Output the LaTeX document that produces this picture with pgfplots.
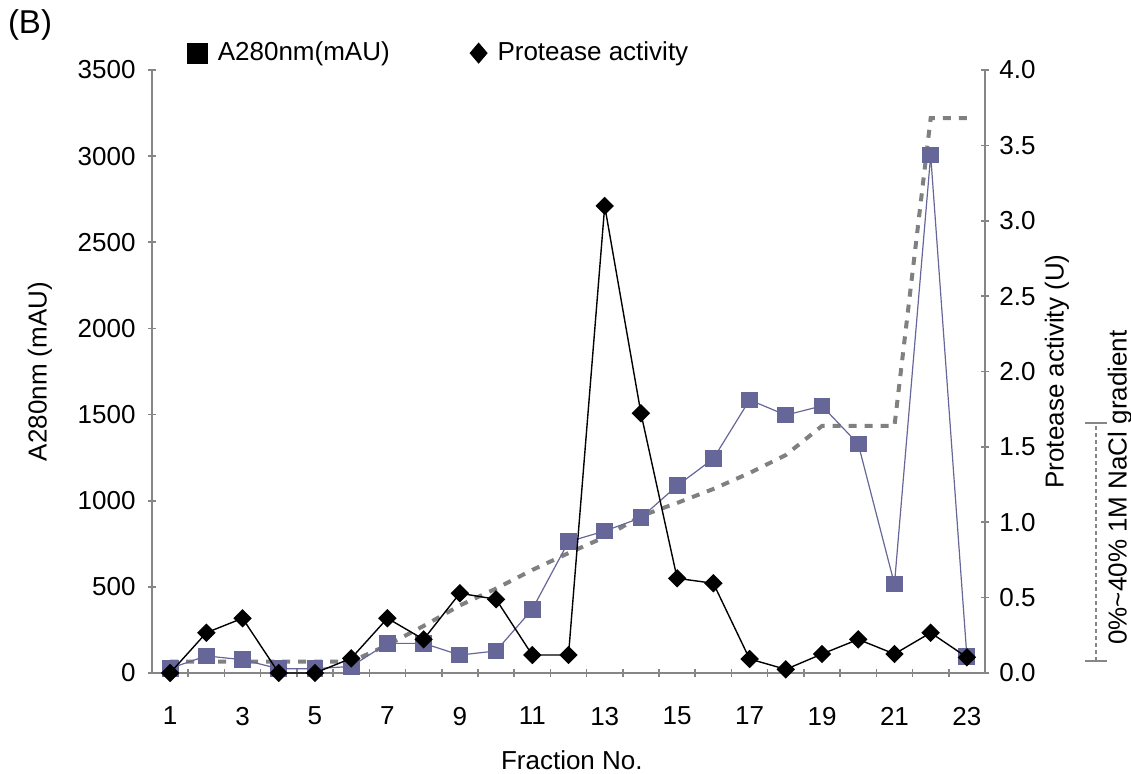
\documentclass[border=0pt]{standalone}
\usepackage{pgfplots}
\pgfplotsset{compat=1.18}
\usepackage{fontspec}
\setmainfont{Liberation Sans}
\definecolor{sq}{RGB}{102,102,153}
\definecolor{ax}{RGB}{134,134,134}
\definecolor{gr}{RGB}{128,128,128}
\newcommand{\myfont}{\fontsize{13}{15.6}\selectfont}
\pgfplotstableread{
x a280 prot grad
1 27 0 66
2 99 0.267 66
3 77 0.363 66
4 25 0 66
5 25 0 66
6 38 0.097 66
7 172 0.363 162
8 172 0.223 273
9 104 0.529 392
10 128 0.489 490
11 370 0.119 598
12 762 0.119 696
13 824 3.098 789
14 901 1.723 911
15 1087 0.628 987
16 1244 0.595 1068
17 1585 0.093 1161
18 1497 0.024 1265
19 1550 0.126 1434
20 1329 0.223 1434
21 516 0.126 1434
22 3006 0.267 3221
23 95 0.104 3221
}\data
\begin{document}
\myfont
\begin{tikzpicture}[x=1pt,y=1pt]
\useasboundingbox (0,0) rectangle (565.5,387);
\pgfplotsset{
  base/.style={
    at={(76pt,50.5pt)}, anchor=south west,
    width=416.5pt, height=301.5pt, scale only axis,
    xmin=0.5, xmax=23.5,
    tick align=inside, major tick length=4pt, minor tick length=4pt,
    tick style={draw=ax, line width=0.8pt},
    tick label style={font=\myfont},
    label style={font=\myfont},
    /pgf/number format/assume math mode=true,
    /pgf/number format/1000 sep={},
    clip=false,
  },
  noarrows/.style={
    axis line style={-, draw=ax, line width=0.8pt},
    every outer x axis line/.append style={-},
    every outer y axis line/.append style={-},
    every inner x axis line/.append style={-},
    every inner y axis line/.append style={-},
  }
}
\begin{axis}[base,
  ymin=0, ymax=3500,
  axis x line=bottom, axis y line=left, noarrows,
  xtick={1.5,2.5,...,22.5}, xticklabels={},
  extra x ticks={1,3,...,23},
  extra x tick style={major tick length=0pt, xticklabel style={yshift=-12.5pt}},
  ytick={0,500,...,3500},
  yticklabel style={xshift=-1.7pt},
  xlabel={Fraction No.},
  ylabel={A280nm (mAU)},
  every axis x label/.style={at={(axis description cs:0.504,-0.1443)}, anchor=center},
  every axis y label/.style={at={(axis description cs:-0.1345,0.5)}, anchor=center, rotate=90},
  legend style={at={(axis description cs:0.042,1.028)}, anchor=west, draw=none, fill=none,
    inner sep=0pt, outer sep=0pt, font=\myfont, nodes={inner sep=0pt},
    /tikz/every odd column/.append style={column sep=5pt},
    /tikz/every even column/.append style={column sep=40pt}},
  legend columns=2, legend cell align=left,
]
\addplot[gr, line width=2pt, dash pattern=on 4pt off 4pt, forget plot] table[x=x, y=grad] {\data};
\addplot[sq, line width=0.6pt, mark=square*, mark size=3.9pt, mark options={fill=sq, draw=sq}, forget plot] table[x=x, y=a280] {\data};
\addlegendimage{legend image code/.code={\fill[black] (0pt,-5pt) rectangle (10pt,5pt);}}
\addlegendentry{A280nm(mAU)}
\addlegendimage{legend image code/.code={\fill[black] (0pt,0pt) -- (4.25pt,5pt) -- (8.5pt,0pt) -- (4.25pt,-5pt) -- cycle;}}
\addlegendentry[xshift=-37.5pt]{Protease activity}
\end{axis}
\begin{axis}[base,
  ymin=0, ymax=4,
  axis x line=none, axis y line=right, noarrows,
  ytick={0,0.5,...,4},
  yticklabel style={xshift=0.7pt, /pgf/number format/.cd, fixed, fixed zerofill, precision=1},
  ylabel={Protease activity (U)},
  every axis y label/.style={at={(axis description cs:1.0864,0.5)}, anchor=center, rotate=90},
]
\addplot[black, line width=0.7pt, mark=square*, mark size=2.9pt, mark options={rotate=45, fill=black}] table[x=x, y=prot] {\data};
\end{axis}
\draw[ax, line width=0.7pt, dash pattern=on 2pt off 1.5pt] (548,56.5) -- (548,175.5);
\draw[ax, line width=0.7pt] (542.5,56.5) -- (553.5,56.5);
\draw[ax, line width=0.7pt] (542.5,175.5) -- (553.5,175.5);
\node[rotate=90, font=\myfont] at (560,143.25) {0\%\textasciitilde 40\% 1M NaCl gradient};
\node[font=\fontsize{16.5}{20}\selectfont] at (15,374.5) {(B)};
\end{tikzpicture}
\end{document}
